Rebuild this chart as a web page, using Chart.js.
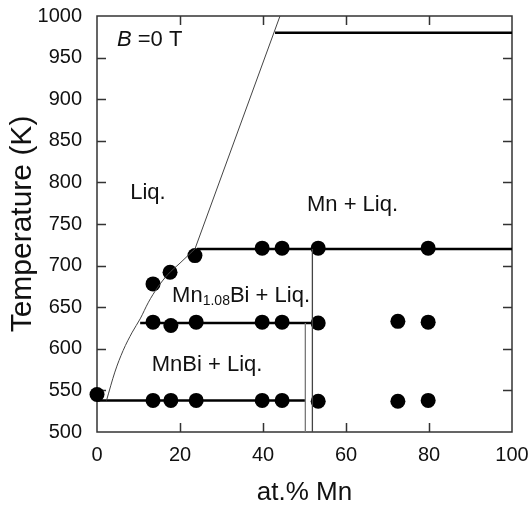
<!DOCTYPE html>
<html>
<head>
<meta charset="utf-8">
<script src="https://cdn.jsdelivr.net/npm/chart.js@4/dist/chart.umd.min.js"></script>
<style>
html,body{margin:0;padding:0;background:#fff;}
#wrap{width:528px;height:508px;}
</style>
</head>
<body>
<div id="wrap"><canvas id="c" width="528" height="508"></canvas></div>
<script>
// ---- data ----
const xTickValues = [0, 20, 40, 60, 80, 100];
const yTickValues = [500, 550, 600, 650, 700, 750, 800, 850, 900, 950, 1000];

// measured points (at.% Mn, K)
const pts540X = [0, 13.5, 17.8, 23.9, 39.8, 44.6, 53.3, 72.5, 79.8];
const pts540T = [545, 538, 538, 538, 538, 538, 537, 537, 538];
const pts630X = [13.5, 17.8, 23.9, 39.8, 44.6, 53.3, 72.5, 79.8];
const pts630T = [632, 628, 632, 632, 632, 631, 633, 632];
const pts720X = [13.5, 17.6, 23.6, 39.8, 44.6, 53.3, 79.8];
const pts720T = [678, 692, 712, 721, 721, 721, 721];

// liquidus curve
const liqLowX = [2.3, 4.3, 6.3, 8.5, 10.4, 12.4, 14.5, 17.0, 20.0, 23.6];
const liqLowT = [538, 572, 598, 620, 636, 656, 673, 689, 703, 720];
const liqHighX = [23.6, 44.1];
const liqHighT = [720, 1000];

// horizontal phase boundaries
const h980X = [42.9, 100], h980T = [980, 980];
const h720X = [24.1, 100], h720T = [720, 720];
const h631X = [10.4, 52.0], h631T = [631, 631];
const h538X = [0, 50.2], h538T = [538, 538];
// vertical phase boundaries
const v50X = [50.2, 50.2], v50T = [500, 631];
const v52X = [51.9, 51.9], v52T = [500, 720];

const zip = (xs, ys) => xs.map((x, i) => ({x: x, y: ys[i]}));

const FONT = "'Liberation Sans', Arial, Helvetica, sans-serif";

function lineDs(xs, ys, color, width) {
  return {data: zip(xs, ys), showLine: true, borderColor: color, borderWidth: width,
          pointRadius: 0, pointHoverRadius: 0, fill: false, tension: 0};
}
function ptDs(xs, ys) {
  return {data: zip(xs, ys), showLine: false, pointRadius: 7.5, pointHoverRadius: 7.5,
          backgroundColor: '#000', borderColor: '#000', borderWidth: 0, clip: false};
}

const lowCurve = lineDs(liqLowX, liqLowT, '#444', 1);
lowCurve.cubicInterpolationMode = 'monotone';

const datasets = [
  lowCurve,
  lineDs(liqHighX, liqHighT, '#444', 1),
  lineDs(v50X, v50T, '#777', 1.3),
  lineDs(v52X, v52T, '#444', 1.3),
  lineDs(h980X, h980T, '#000', 2.5),
  lineDs(h720X, h720T, '#000', 2.5),
  lineDs(h631X, h631T, '#000', 2.5),
  lineDs(h538X, h538T, '#000', 2.5),
  ptDs(pts540X, pts540T),
  ptDs(pts630X, pts630T),
  ptDs(pts720X, pts720T)
];

// annotation texts, anchored at data coordinates (left edge, vertical middle)
const labels = [
  {x: 4.8, y: 971, parts: [{t: 'B', italic: true}, {t: ' =0 T'}]},
  {x: 8.0, y: 787, parts: [{t: 'Liq.'}]},
  {x: 50.6, y: 773, parts: [{t: 'Mn + Liq.'}]},
  {x: 18.1, y: 664, parts: [{t: 'Mn'}, {t: '1.08', sub: true}, {t: 'Bi + Liq.'}]},
  {x: 13.2, y: 580.5, parts: [{t: 'MnBi + Liq.'}]}
];

const framePlugin = {
  id: 'frame',
  beforeDatasetsDraw(chart) {
    const {ctx, chartArea: a, scales} = chart;
    ctx.save();
    ctx.strokeStyle = '#333';
    ctx.lineWidth = 1.5;
    ctx.strokeRect(a.left, a.top, a.right - a.left, a.bottom - a.top);
    const tl = 9;
    ctx.beginPath();
    scales.x.ticks.forEach(t => {
      const px = Math.round(scales.x.getPixelForValue(t.value)) + 0.5;
      if (t.value === 0 || t.value === 100) return;
      ctx.moveTo(px, a.bottom); ctx.lineTo(px, a.bottom - tl);
      ctx.moveTo(px, a.top); ctx.lineTo(px, a.top + tl);
    });
    scales.y.ticks.forEach(t => {
      const py = Math.round(scales.y.getPixelForValue(t.value)) + 0.5;
      if (t.value === 500 || t.value === 1000) return;
      ctx.moveTo(a.left, py); ctx.lineTo(a.left + tl, py);
      ctx.moveTo(a.right, py); ctx.lineTo(a.right - tl, py);
    });
    ctx.stroke();
    ctx.restore();
  },
  afterDraw(chart) {
    const {ctx, scales} = chart;
    ctx.save();
    ctx.fillStyle = '#111';
    ctx.textBaseline = 'middle';
    ctx.textAlign = 'left';
    labels.forEach(l => {
      let px = scales.x.getPixelForValue(l.x);
      const py = scales.y.getPixelForValue(l.y);
      l.parts.forEach(p => {
        const size = p.sub ? 14 : 22;
        ctx.font = (p.italic ? 'italic ' : '') + size + 'px ' + FONT;
        const dy = p.sub ? 6 : 0;
        ctx.fillText(p.t, px, py + dy);
        px += ctx.measureText(p.t).width;
      });
    });
    ctx.restore();
  }
};

new Chart(document.getElementById('c'), {
  type: 'scatter',
  data: {datasets: datasets},
  options: {
    responsive: false,
    animation: false,
    devicePixelRatio: 1,
    layout: {padding: {top: 16, right: 16, left: 0, bottom: 0}},
    plugins: {legend: {display: false}, tooltip: {enabled: false}},
    scales: {
      x: {
        type: 'linear', min: 0, max: 100,
        afterBuildTicks: s => { s.ticks = xTickValues.map(v => ({value: v})); },
        afterFit: s => { s.height = 76; s.paddingLeft = 0; s.paddingRight = 0; },
        grid: {display: false, drawTicks: false},
        border: {display: false},
        ticks: {autoSkip: false, maxRotation: 0, padding: 11, color: '#111',
                font: {family: FONT, size: 20}, callback: v => String(v)},
        title: {display: true, text: 'at.% Mn', color: '#111',
                font: {family: FONT, size: 26}, padding: {top: 0, bottom: 0}}
      },
      y: {
        type: 'linear', min: 500, max: 1000,
        afterBuildTicks: s => { s.ticks = yTickValues.map(v => ({value: v})); },
        afterFit: s => { s.width = 97; s.paddingTop = 0; s.paddingBottom = 0; },
        grid: {display: false, drawTicks: false},
        border: {display: false},
        ticks: {autoSkip: false, padding: 15, color: '#111',
                font: {family: FONT, size: 20}, callback: v => String(v)},
        title: {display: true, text: 'Temperature (K)', color: '#111',
                font: {family: FONT, size: 30}, padding: {top: 5, bottom: 0}}
      }
    }
  },
  plugins: [framePlugin]
});
</script>
</body>
</html>
